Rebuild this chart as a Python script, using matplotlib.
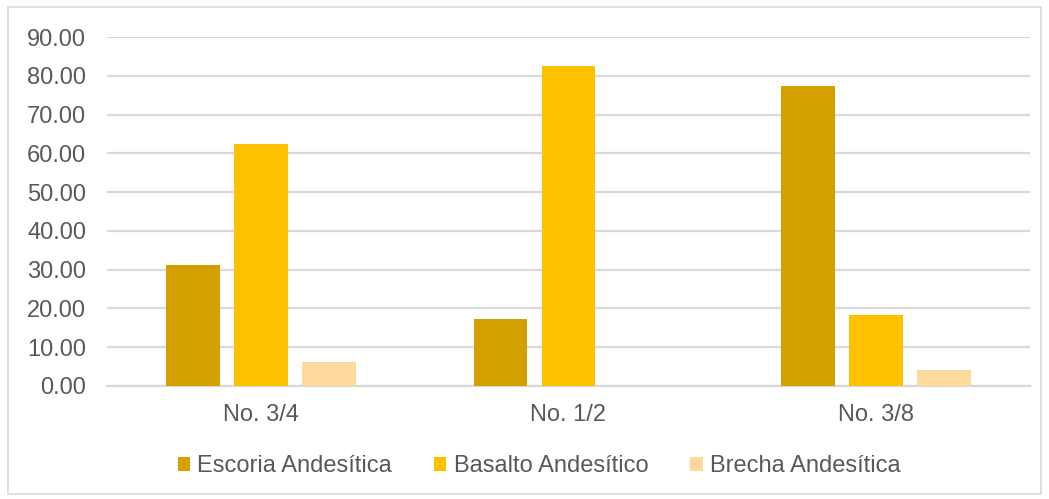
import matplotlib
matplotlib.use("Agg")
import matplotlib.pyplot as plt
from matplotlib.patches import Rectangle
import numpy as np

categories = ["No. 3/4", "No. 1/2", "No. 3/8"]
series_names = ["Escoria Andesítica", "Basalto Andesítico", "Brecha Andesítica"]
escoria = [31.1, 17.3, 77.4]
basalto = [62.4, 82.5, 18.3]
brecha = [6.2, 0.0, 4.0]
y_ticks = [0, 10, 20, 30, 40, 50, 60, 70, 80, 90]

colors = ["#D4A000", "#FFC000", "#FFD89D"]
text_color = "#595959"
grid_color = "#D9D9D9"
fs = 17

plt.rcParams["font.family"] = ["Liberation Sans", "DejaVu Sans"]

W, H = 1049, 499
fig = plt.figure(figsize=(W / 100, H / 100), dpi=100)
fig.patch.set_facecolor("white")

# outer chart frame
fig.add_artist(Rectangle((8 / W, 1 - 494 / H), (1041 - 8) / W, (494 - 7) / H,
                         transform=fig.transFigure, fill=False,
                         edgecolor=grid_color, linewidth=1.2))

ax = fig.add_axes([107 / W, 1 - 386 / H, (1030 - 107) / W, (386 - 37) / H])

x = np.arange(len(categories))
width = 0.175
step = 0.221
for i, (vals, name) in enumerate(zip([escoria, basalto, brecha], series_names)):
    ax.bar(x + (i - 1) * step, vals, width, color=colors[i], label=name,
           zorder=3, edgecolor="none")

ax.set_xlim(-0.5, 2.5)
ax.set_ylim(0, 90)
ax.set_yticks(y_ticks)
ax.set_yticklabels([f"{v:.2f}" for v in y_ticks])
ax.set_xticks(x)
ax.set_xticklabels(categories)
ax.tick_params(axis="y", length=0, pad=15, labelsize=fs, labelcolor=text_color)
ax.tick_params(axis="x", length=0, pad=13, labelsize=fs, labelcolor=text_color)
ax.yaxis.grid(True, color=grid_color, linewidth=1.6, zorder=0)
ax.set_axisbelow(True)
for s in ["top", "right", "left"]:
    ax.spines[s].set_visible(False)
ax.spines["bottom"].set_color(grid_color)
ax.spines["bottom"].set_linewidth(1.6)

leg = fig.legend(loc="center", bbox_to_anchor=(539 / W, 1 - 466 / H), ncol=3,
                 frameon=False, fontsize=fs, handlelength=0.53, handleheight=0.53,
                 handletextpad=0.3, columnspacing=1.78, borderpad=0)
for t in leg.get_texts():
    t.set_color(text_color)

fig.savefig("out.png", dpi=100, facecolor="white")
